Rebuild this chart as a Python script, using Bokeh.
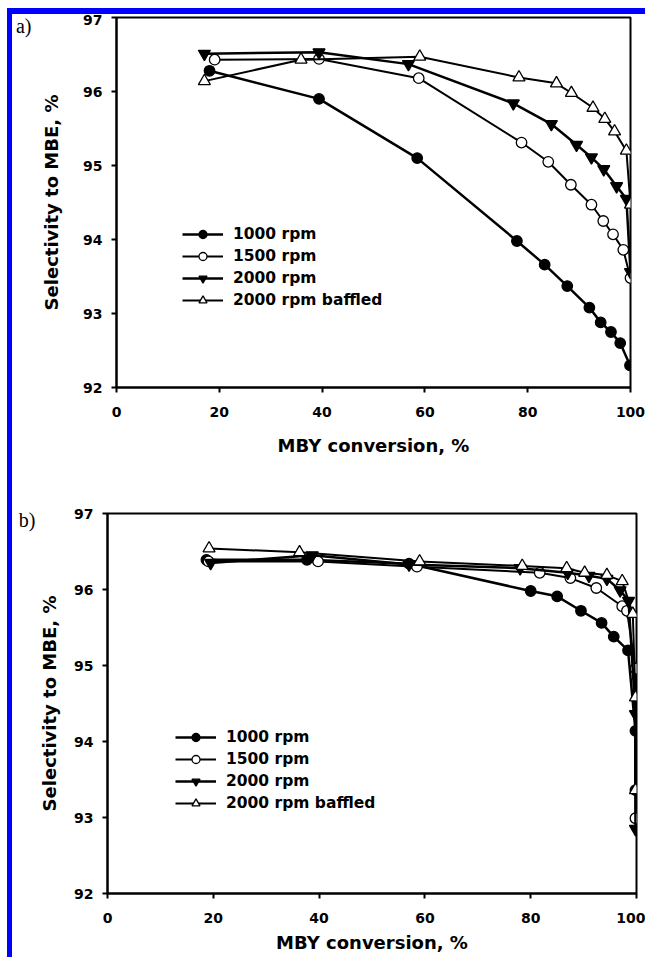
from bokeh.plotting import figure
from bokeh.layouts import column, row
from bokeh.models import Range1d, FixedTicker, Legend, LegendItem, Div, LinearAxis
from bokeh.embed import file_html
from bokeh.resources import INLINE

FONT = "DejaVu Sans"

x_ticks = [0, 20, 40, 60, 80, 100]
y_ticks = [92, 93, 94, 95, 96, 97]
series_labels = ["1000 rpm", "1500 rpm", "2000 rpm", "2000 rpm baffled"]
x_title = "MBY conversion, %"
y_title = "Selectivity to MBE, %"

# ---- panel a ----
a_x_1000 = [18.1, 39.4, 58.5, 77.9, 83.3, 87.7, 92.0, 94.2, 96.2, 98.0, 99.9]
a_y_1000 = [96.28, 95.90, 95.10, 93.98, 93.66, 93.37, 93.08, 92.88, 92.75, 92.60, 92.30]
a_x_1500 = [19.1, 39.4, 58.8, 78.8, 84.0, 88.4, 92.4, 94.7, 96.6, 98.6, 100.0]
a_y_1500 = [96.43, 96.44, 96.18, 95.31, 95.05, 94.74, 94.47, 94.25, 94.07, 93.86, 93.48]
a_x_2000 = [17.1, 39.4, 56.8, 77.2, 84.6, 89.5, 92.4, 94.8, 97.3, 99.2, 100.0]
a_y_2000 = [96.51, 96.53, 96.37, 95.84, 95.56, 95.28, 95.11, 94.95, 94.72, 94.55, 93.56]
a_x_baf = [17.1, 35.9, 59.0, 78.3, 85.6, 88.5, 92.7, 95.0, 96.9, 99.2, 100.0]
a_y_baf = [96.14, 96.43, 96.47, 96.19, 96.11, 95.98, 95.78, 95.63, 95.46, 95.20, 94.47]

# ---- panel b ----
b_x_1000 = [18.7, 37.7, 57.0, 80.0, 85.0, 89.5, 93.4, 95.7, 98.4, 99.8, 99.8]
b_y_1000 = [96.39, 96.39, 96.34, 95.98, 95.91, 95.72, 95.56, 95.38, 95.20, 94.14, 93.36]
b_x_1500 = [19.1, 39.8, 58.5, 81.7, 87.5, 92.4, 97.3, 98.2, 99.8, 99.8]
b_y_1500 = [96.37, 96.37, 96.30, 96.22, 96.15, 96.02, 95.78, 95.72, 94.96, 92.99]
b_x_2000 = [19.5, 38.7, 57.0, 78.0, 87.0, 91.0, 94.4, 96.9, 98.5, 99.8, 99.8]
b_y_2000 = [96.35, 96.45, 96.33, 96.28, 96.22, 96.18, 96.14, 95.99, 95.85, 94.36, 92.85]
b_x_baf = [19.2, 36.3, 59.0, 78.4, 86.8, 90.2, 94.4, 97.3, 99.3, 99.8, 99.8]
b_y_baf = [96.54, 96.49, 96.37, 96.31, 96.28, 96.22, 96.19, 96.11, 95.68, 94.58, 93.36]

panel_tags = ["a)", "b)"]
tag_levels = [96.88, 96.91]

markers = ["circle", "circle", "inverted_triangle", "triangle"]
fills = ["black", "white", "black", "white"]
msizes = [10.5, 10.5, 12, 12]
lwidths = [2.5, 2.0, 2.5, 2.0]


def make_panel(xs, ys, width, height, borders, legend_loc, tag, tag_y, tag_standoff,
               xlab_standoff, ylab_standoff):
    left, right, top, bottom = borders
    p = figure(width=width, height=height, output_backend="svg", toolbar_location=None,
               x_range=Range1d(0, 100), y_range=Range1d(92, 97),
               min_border_left=left, min_border_right=right,
               min_border_top=top, min_border_bottom=bottom)
    p.frame_align = False
    p.background_fill_color = "white"
    p.border_fill_color = "white"
    p.grid.visible = False
    p.outline_line_color = "black"
    p.outline_line_width = 2
    p.outline_line_alpha = 1.0
    for ax in (p.xaxis[0], p.yaxis[0]):
        ax.axis_line_width = 2
        ax.major_tick_line_width = 2
        ax.major_tick_in = 0
        ax.major_tick_out = 5
        ax.minor_tick_line_color = None
        ax.major_label_text_font = FONT
        ax.major_label_text_font_style = "bold"
        ax.major_label_text_font_size = "14px"
        ax.major_label_text_color = "black"
        ax.axis_label_text_font = FONT
        ax.axis_label_text_font_style = "bold"
        ax.axis_label_text_font_size = "18px"
        ax.axis_label_text_color = "black"
    p.xaxis.ticker = FixedTicker(ticks=x_ticks)
    p.yaxis.ticker = FixedTicker(ticks=y_ticks)
    p.xaxis.major_label_standoff = 14
    p.yaxis.major_label_standoff = 9
    p.yaxis.axis_label = y_title
    p.yaxis.axis_label_standoff = ylab_standoff
    p.xaxis.axis_label = x_title
    p.xaxis.axis_label_standoff = xlab_standoff

    # panel tag ("a)" / "b)") drawn as the single label of an extra, line-less axis
    tag_axis = LinearAxis(ticker=FixedTicker(ticks=[tag_y]),
                          major_label_overrides={tag_y: tag},
                          axis_line_color=None, major_tick_line_color=None,
                          major_tick_in=0, major_tick_out=0,
                          minor_tick_line_color=None,
                          major_label_standoff=tag_standoff,
                          major_label_text_font="Liberation Serif",
                          major_label_text_font_size="20px",
                          major_label_text_font_style="normal",
                          major_label_text_color="black")
    p.add_layout(tag_axis, "left")

    items = []
    for i in range(4):
        lr = p.line(xs[i], ys[i], line_color="black", line_width=lwidths[i])
        sr = p.scatter(xs[i], ys[i], marker=markers[i], size=msizes[i],
                       fill_color=fills[i], line_color="black", line_width=1.3)
        items.append(LegendItem(label=series_labels[i], renderers=[lr, sr]))
    leg = Legend(items=items, location=legend_loc, orientation="vertical",
                 padding=0, margin=0, spacing=2, glyph_width=41, glyph_height=20,
                 label_height=20, label_standoff=10, label_text_font=FONT,
                 label_text_font_style="bold", label_text_font_size="15.5px",
                 label_text_color="black",
                 border_line_color=None, background_fill_alpha=0)
    p.add_layout(leg)
    return p


pa = make_panel([a_x_1000, a_x_1500, a_x_2000, a_x_baf],
                [a_y_1000, a_y_1500, a_y_2000, a_y_baf],
                633, 476, (104, 15, 3, 103), (66, 77), panel_tags[0], tag_levels[0], 7,
                15, 18)
pb = make_panel([b_x_1000, b_x_1500, b_x_2000, b_x_baf],
                [b_y_1000, b_y_1500, b_y_2000, b_y_baf],
                633, 467, (95, 9, 23, 64), (68, 80), panel_tags[1], tag_levels[1], 1,
                6, 11)

top_gap = Div(width=645, height=8, margin=0)
left_gap = Div(width=7, height=949, margin=0)
top_bar = Div(width=638, height=6, margin=0, styles={"background-color": "#0000ff"})
left_bar = Div(width=5, height=943, margin=0, styles={"background-color": "#0000ff"})
layout = column(
    top_gap,
    row(left_gap,
        column(top_bar,
               row(left_bar, column(pa, pb, spacing=0), spacing=0),
               spacing=0),
        spacing=0),
    spacing=0)

open("out.html", "w").write(file_html(layout, INLINE))
